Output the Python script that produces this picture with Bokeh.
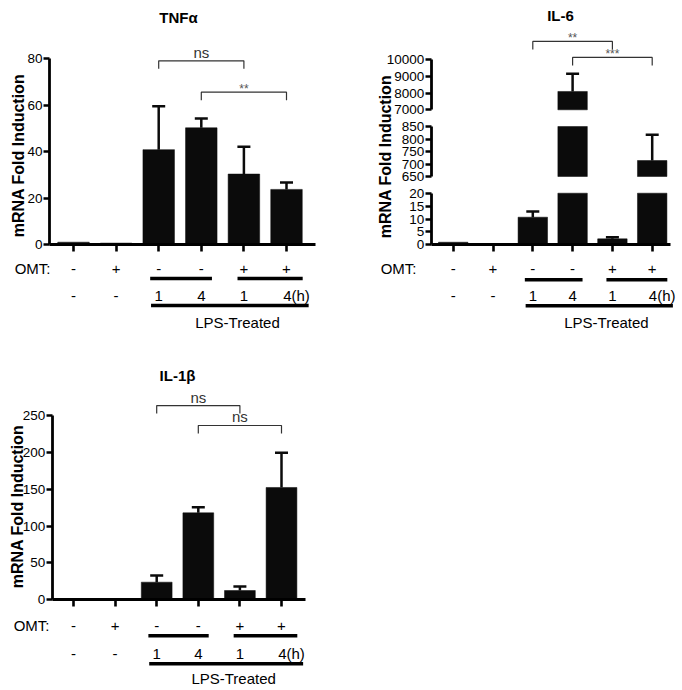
import numpy as np
from bokeh.plotting import figure
from bokeh.models import Range1d, LinearAxis, FixedTicker
from bokeh.layouts import column, row
from bokeh.core.properties import value
from bokeh.embed import file_html
from bokeh.resources import INLINE

FONT = "Liberation Sans"
NAN = float("nan")
BAR = "#0b0b0b"

# ---------------- data ----------------
bar_positions = [1, 2, 3, 4, 5, 6]
omt_labels = ["-", "+", "-", "-", "+", "+"]
time_labels = ["-", "-", "1", "4", "1", "4(h)"]
lps_label = "LPS-Treated"
omt_title = "OMT:"
y_axis_title = "mRNA Fold Induction"

tnf_title = "TNFα"
tnf_values = [1.0, 0.6, 40.8, 50.2, 30.3, 23.7]
tnf_err_top = [NAN, NAN, 59.5, 54.2, 42.0, 26.7]
tnf_ticks = [0, 20, 40, 60, 80]
tnf_sig_from = [3, 4]
tnf_sig_to = [5, 6]
tnf_sig_level = [79.0, 65.5]
tnf_sig_text = ["ns", "**"]

il6_title = "IL-6"
il6_values = [1.0, 0.5, 10.7, 8100.0, 2.3, 714.0]
il6_err_top = [NAN, NAN, 12.9, 9160.0, 2.9, 817.0]
il6_ticks_low = [0, 5, 10, 15, 20]
il6_ticks_mid = [650, 700, 750, 800, 850]
il6_ticks_high = [7000, 8000, 9000, 10000]
il6_sig_from = [3, 4]
il6_sig_to = [5, 6]
il6_sig_level = [11100.0, 10140.0]
il6_sig_text = ["**", "***"]

il1b_title = "IL-1β"
il1b_values = [1.5, 0.5, 23.9, 118.0, 12.6, 152.4]
il1b_err_top = [NAN, NAN, 33.0, 125.7, 18.0, 199.4]
il1b_ticks = [0, 50, 100, 150, 200, 250]
il1b_sig_from = [3, 4]
il1b_sig_to = [5, 6]
il1b_sig_level = [263.5, 236.5]
il1b_sig_text = ["ns", "ns"]


def build_panel(W, H, ox, oy, c1, d, axis_px, axis_end, segments, values, err_top,
                title, title_px, ylabel_px, omt_right_px, row_off,
                sig_from, sig_to, sig_level, sig_text, sig_seg=0):
    x0 = 1 - (c1 - ox) / d

    def to_x(px):
        return x0 + (px - ox) / d

    ends = [s["lo"] + (s["lo_px"] - oy) / s["k"] for s in segments]

    def to_y(py, si=0):
        return ends[si] - (py - oy) / segments[si]["k"]

    names = ["default"] + [f"seg{i}" for i in range(1, len(segments))]
    p = figure(width=W, height=H, x_range=Range1d(x0, x0 + W / d),
               y_range=Range1d(ends[0] - H / segments[0]["k"], ends[0]),
               title=None, x_axis_location=None, y_axis_location=None,
               toolbar_location=None, output_backend="svg", min_border=0,
               outline_line_color=None, background_fill_color="white",
               border_fill_color="white")
    p.grid.visible = False
    if len(segments) > 1:
        p.extra_y_ranges = {names[i]: Range1d(ends[i] - H / segments[i]["k"], ends[i])
                            for i in range(1, len(segments))}

    ax_x = to_x(axis_px)
    bw = 0.74
    cap = 13.0 / d
    for si, s in enumerate(segments):
        lo, hi = s["lo"], s["hi"]
        xs, bots, tops = [], [], []
        for x, v in zip(bar_positions, values):
            if v > lo:
                xs.append(x); bots.append(lo); tops.append(min(v, hi))
        if xs:
            p.vbar(x=xs, bottom=bots, top=tops, width=bw, fill_color=BAR,
                   line_color=BAR, line_width=0.5, y_range_name=names[si])
        ex, ev, ee = [], [], []
        for x, v, e in zip(bar_positions, values, err_top):
            if np.isnan(e):
                continue
            if lo <= v <= hi:
                ex.append(x); ev.append(v); ee.append(e)
        if ex:
            p.segment(x0=ex, y0=ev, x1=ex, y1=ee, line_width=2.5, line_color=BAR,
                      y_range_name=names[si])
            p.segment(x0=[x - cap / 2 for x in ex], y0=ee, x1=[x + cap / 2 for x in ex],
                      y1=ee, line_width=2.5, line_color=BAR, y_range_name=names[si])
        ax = LinearAxis(y_range_name=names[si], fixed_location=ax_x, bounds=(lo, hi),
                        ticker=FixedTicker(ticks=s["ticks"], minor_ticks=[]),
                        axis_line_width=2.8, axis_line_color="black",
                        major_tick_line_width=2.6, major_tick_out=6, major_tick_in=0,
                        minor_tick_out=0, minor_tick_in=0,
                        major_label_standoff=1,
                        major_label_text_font=FONT, major_label_text_font_size="13.5px",
                        major_label_text_color="black")
        p.add_layout(ax, "left")

    xa = LinearAxis(fixed_location=0, bounds=(ax_x, axis_end),
                    ticker=FixedTicker(ticks=bar_positions, minor_ticks=[]),
                    axis_line_width=2.8, axis_line_color="black",
                    major_tick_line_width=2.6, major_tick_out=7, major_tick_in=0,
                    minor_tick_out=0, minor_tick_in=0, major_label_text_color=None)
    p.add_layout(xa, "below")

    # title and y label
    p.text(x=[to_x(title_px[0])], y=[to_y(title_px[1])], text=[title],
           text_font=value(FONT), text_font_size="15px", text_font_style="bold",
           text_align="center", text_baseline="middle", text_color="black")
    p.text(x=[to_x(ylabel_px[0])], y=[to_y(ylabel_px[1])], text=[y_axis_title],
           angle=np.pi / 2, text_font=value(FONT), text_font_size="16px",
           text_font_style="bold", text_align="center", text_baseline="middle",
           text_color="black")

    # treatment rows
    base = segments[0]["lo_px"]
    y_omt = to_y(base + row_off[0])
    y_l1 = to_y(base + row_off[1])
    y_time = to_y(base + row_off[2])
    y_l2 = to_y(base + row_off[3])
    y_lps = to_y(base + row_off[4])
    p.text(x=[to_x(omt_right_px)], y=[y_omt], text=[omt_title], text_font=value(FONT),
           text_font_size="15px", text_align="right", text_baseline="middle",
           text_color="black")
    p.text(x=bar_positions, y=[y_omt] * 6, text=omt_labels, text_font=value(FONT),
           text_font_size="15px", text_align="center", text_baseline="middle",
           text_color="black")
    p.text(x=bar_positions, y=[y_time] * 6, text=time_labels, text_font=value(FONT),
           text_font_size="15px", text_align="center", text_baseline="middle",
           x_offset=[0, 0, 0, 0, 0, 10], text_color="black")
    p.segment(x0=[3 - 0.2, 5 - 0.15, 3 - 0.18], x1=[4 + 0.25, 6 + 0.38, 6 + 0.52],
              y0=[y_l1, y_l1, y_l2], y1=[y_l1, y_l1, y_l2], line_width=3.5,
              line_color="black")
    p.text(x=[4.85], y=[y_lps], text=[lps_label], text_font=value(FONT),
           text_font_size="15px", text_align="center", text_baseline="middle",
           text_color="black")

    # significance brackets
    k = segments[sig_seg]["k"]
    nm = names[sig_seg]
    drop = 8.0 / k
    xs = [[a, a, b, b] for a, b in zip(sig_from, sig_to)]
    ys = [[L - drop, L, L, L - drop] for L in sig_level]
    p.multi_line(xs=xs, ys=ys, line_width=1.2, line_color="#333333", y_range_name=nm)
    for a, b, L, t in zip(sig_from, sig_to, sig_level, sig_text):
        star = t.startswith("*")
        p.text(x=[(a + b) / 2], y=[L + (3.5 if star else 8.5) / k], text=[t],
               text_font=value(FONT), text_font_size="12px" if star else "15px",
               text_color="#555555" if star else "#333333", text_align="center",
               text_baseline="middle", y_range_name=nm)
    return p


p_tnf = build_panel(
    W=340, H=353, ox=0, oy=0, c1=73, d=42.6, axis_px=49, axis_end=6.68,
    segments=[dict(lo=0, hi=80, ticks=tnf_ticks, lo_px=244, k=2.325)],
    values=tnf_values, err_top=tnf_err_top, title=tnf_title, title_px=(178, 17),
    ylabel_px=(17.5, 155), omt_right_px=50, row_off=(24, 34, 51, 61, 78),
    sig_from=tnf_sig_from, sig_to=tnf_sig_to, sig_level=tnf_sig_level,
    sig_text=tnf_sig_text)

p_il6 = build_panel(
    W=342, H=353, ox=340, oy=0, c1=452.7, d=39.8, axis_px=430.7, axis_end=6.46,
    segments=[dict(lo=0, hi=20, ticks=il6_ticks_low, lo_px=244.3, k=2.58),
              dict(lo=650, hi=850, ticks=il6_ticks_mid, lo_px=176, k=0.25),
              dict(lo=7000, hi=10000, ticks=il6_ticks_high, lo_px=109.3, k=1 / 60)],
    values=il6_values, err_top=il6_err_top, title=il6_title, title_px=(560, 15),
    ylabel_px=(385, 156), omt_right_px=416, row_off=(24, 35, 51, 61, 78),
    sig_from=il6_sig_from, sig_to=il6_sig_to, sig_level=il6_sig_level,
    sig_text=il6_sig_text, sig_seg=2)

p_il1b = build_panel(
    W=340, H=337, ox=0, oy=353, c1=73, d=41.6, axis_px=51.7, axis_end=6.58,
    segments=[dict(lo=0, hi=250, ticks=il1b_ticks, lo_px=599.3, k=0.737)],
    values=il1b_values, err_top=il1b_err_top, title=il1b_title, title_px=(177, 375),
    ylabel_px=(17, 506), omt_right_px=49, row_off=(26, 36, 54, 64, 79),
    sig_from=il1b_sig_from, sig_to=il1b_sig_to, sig_level=il1b_sig_level,
    sig_text=il1b_sig_text)

layout = column(row(p_tnf, p_il6), p_il1b)
open("out.html", "w").write(file_html(layout, INLINE))
